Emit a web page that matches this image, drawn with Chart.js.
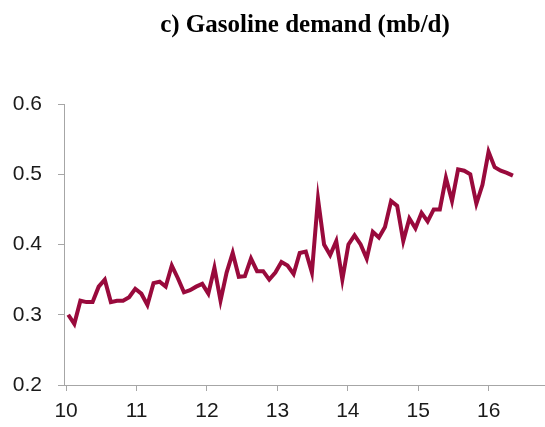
<!DOCTYPE html>
<html>
<head>
<meta charset="utf-8">
<script src="https://cdn.jsdelivr.net/npm/chart.js@4/dist/chart.umd.min.js"></script>
<style>
  html, body { margin: 0; padding: 0; background: #fff; }
  #wrap { width: 545px; height: 427px; }
</style>
</head>
<body>
<div id="wrap"><canvas id="chart" width="545" height="427"></canvas></div>
<script>
const title = "c) Gasoline demand (mb/d)";
const startYear = 10.03;
const stepYear = 0.0865;
const demand = [
  0.300, 0.287, 0.320, 0.318, 0.318, 0.340, 0.350, 0.318, 0.320, 0.320,
  0.325, 0.337, 0.330, 0.314, 0.345, 0.347, 0.340, 0.370, 0.352, 0.332,
  0.335, 0.340, 0.344, 0.330, 0.367, 0.320, 0.360, 0.388, 0.354, 0.355,
  0.380, 0.362, 0.362, 0.350, 0.360, 0.375, 0.370, 0.358, 0.388, 0.390,
  0.360, 0.465, 0.400, 0.385, 0.405, 0.350, 0.400, 0.413, 0.400, 0.380,
  0.418, 0.410, 0.425, 0.462, 0.455, 0.405, 0.437, 0.423, 0.445, 0.433,
  0.450, 0.450, 0.495, 0.462, 0.507, 0.505, 0.500, 0.458, 0.485, 0.532,
  0.510, 0.505, 0.502, 0.498
];
const xTicks = [10, 11, 12, 13, 14, 15, 16];
const yTicks = [0.2, 0.3, 0.4, 0.5, 0.6];

const points = demand.map((v, i) => ({ x: startYear + i * stepYear, y: v }));

const titlePlugin = {
  id: "titleText",
  afterDraw(chart) {
    const ctx = chart.ctx;
    ctx.save();
    ctx.font = "bold 25px 'Liberation Serif', 'Times New Roman', serif";
    ctx.fillStyle = "#000";
    ctx.textAlign = "center";
    ctx.textBaseline = "middle";
    ctx.fillText(title, 305, 26);
    ctx.restore();
  },
};

const ctx = document.getElementById("chart").getContext("2d");
new Chart(ctx, {
  type: "line",
  data: {
    datasets: [
      {
        data: points,
        borderColor: "#990a3c",
        borderWidth: 4,
        pointRadius: 0,
        fill: false,
        tension: 0,
        parsing: false,
      },
    ],
  },
  options: {
    responsive: false,
    animation: false,
    layout: { padding: { top: 104, right: 0, left: 0, bottom: 0 } },
    plugins: {
      legend: { display: false },
      tooltip: { enabled: false },
    },
    scales: {
      x: {
        type: "linear",
        min: 9.97,
        max: 16.8,
        afterBuildTicks: (s) => { s.ticks = xTicks.map((v) => ({ value: v })); },
        afterFit: (s) => { s.height = 42; },
        grid: { drawOnChartArea: false, tickLength: 6, color: "#a6a6a6" },
        border: { color: "#a6a6a6", width: 1 },
        ticks: {
          color: "#1a1a1a",
          font: { family: "'Liberation Sans', Arial, sans-serif", size: 21 },
          padding: 8,
          maxRotation: 0,
          callback: (v) => String(v),
        },
      },
      y: {
        min: 0.2,
        max: 0.6,
        afterBuildTicks: (s) => { s.ticks = yTicks.map((v) => ({ value: v })); },
        afterFit: (s) => { s.width = 64; },
        grid: { drawOnChartArea: false, tickLength: 6, color: "#a6a6a6" },
        border: { color: "#a6a6a6", width: 1 },
        ticks: {
          color: "#1a1a1a",
          font: { family: "'Liberation Sans', Arial, sans-serif", size: 21 },
          padding: 16,
          callback: (v) => v.toFixed(1),
        },
      },
    },
  },
  plugins: [titlePlugin],
});
</script>
</body>
</html>
